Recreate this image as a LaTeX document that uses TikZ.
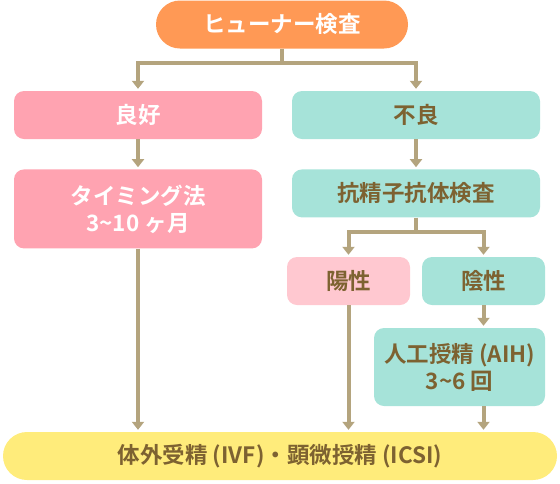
\documentclass[tikz,border=0pt]{standalone}
\usepackage{fontspec}
\setmainfont{Noto Sans CJK JP}[BoldFont={Noto Sans CJK JP Bold}]
\usetikzlibrary{positioning, arrows.meta}

\definecolor{orangebox}{HTML}{FF9955}
\definecolor{pinkbox}{HTML}{FFA3B1}
\definecolor{lightpink}{HTML}{FFC8D0}
\definecolor{tealbox}{HTML}{A6E3D9}
\definecolor{yellowbox}{HTML}{FFEC7B}
\definecolor{linecol}{HTML}{B4A47E}
\definecolor{browntext}{HTML}{7D6231}

\begin{document}
\begin{tikzpicture}[
            x=1pt, y=-1pt,
            box/.style={rounded corners=10pt, align=center, minimum width=248pt, minimum height=48pt, inner sep=0pt, text=browntext, font=\bfseries\fontsize{22.5}{27}\selectfont},
            pill/.style={box, rounded corners=24pt},
            line/.style={line width=4pt, draw=linecol},
            arrow/.style={line, -{Triangle[width=12pt,length=8pt]}, shorten >=2pt}
        ]
            \useasboundingbox (0,0) rectangle (560,483);
            \node[pill, fill=orangebox, text=white, minimum width=252pt] (huhner) at (282,24.5) {ヒューナー検査};
\node[box, fill=pinkbox, text=white] (ryoko) at (138,115) {良好};
            \node[box, fill=pinkbox, text=white, minimum height=79pt, below=30pt of ryoko] (timing) {タイミング法\\3\textasciitilde10 ヶ月};
            \node[box, fill=tealbox] (furyo) at (416,115) {不良};
\node[box, fill=tealbox, below=30pt of furyo] (kotai) {抗精子抗体検査};
            \node[box, fill=lightpink, minimum width=123pt] (yosei) at (348.5,281) {陽性};
            \node[box, fill=tealbox, minimum width=123pt] (insei) at (483.5,281) {陰性};
            \node[box, fill=tealbox, minimum width=171pt, minimum height=78pt] (aih) at (459.5,367) {人工授精 (AIH)\\3\textasciitilde6 回};
\node[pill, fill=yellowbox, minimum width=554pt] (ivf) at (280,456) {体外受精 (IVF)・顕微授精 (ICSI)};
            \coordinate (split) at (282,63);
            \coordinate (split2) at (416,232);
            \draw[line] (huhner) -- (split);
            \draw[arrow] (split) -| (ryoko);
\draw[arrow] (split) -| (furyo);
            \draw[arrow] (ryoko) -- (timing);
            \draw[arrow] (furyo) -- (kotai);
            \draw[line] (kotai) -- (split2);
            \draw[arrow] (split2) -| (yosei);
\draw[arrow] (split2) -| (insei);
            \draw[arrow] (insei) -- (insei |- aih.north);
            \draw[arrow] (timing) -- (timing |- ivf.north);
            \draw[arrow] (yosei) -- (yosei |- ivf.north);
\draw[arrow] (aih.south -| insei) -- (insei |- ivf.north);
        \end{tikzpicture}
\end{document}
